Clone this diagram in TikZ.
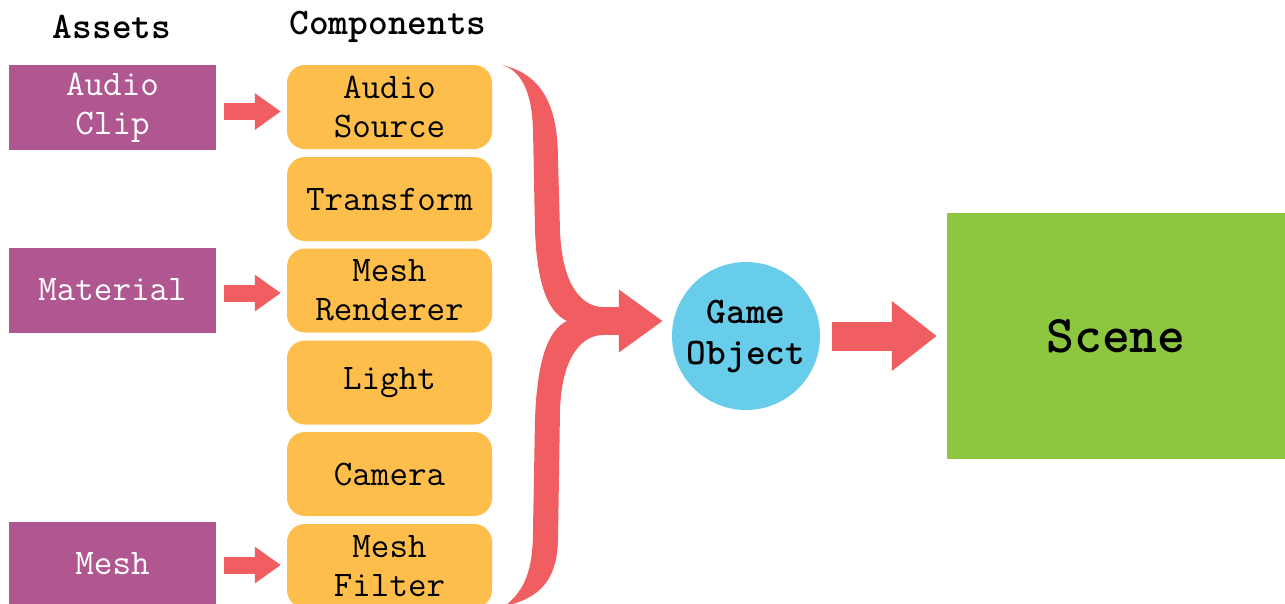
\documentclass[tikz,border=0pt]{standalone}
\usetikzlibrary{arrows.meta}
\definecolor{assetc}{RGB}{176,86,145}
\definecolor{compc}{RGB}{253,190,75}
\definecolor{arrc}{RGB}{240,94,98}
\definecolor{goc}{RGB}{104,205,235}
\definecolor{scenec}{RGB}{141,198,63}
\begin{document}
\begin{tikzpicture}[x=1pt,y=-1pt,
  txt/.style={font=\ttfamily\fontsize{36}{39}\selectfont},
  asset/.style={txt, fill=assetc, text=white, minimum width=207pt, minimum height=85pt, align=center, inner sep=0pt},
  comp/.style={txt, fill=compc, rounded corners=18pt, minimum width=205pt, minimum height=84pt, align=center, inner sep=0pt},
  hdr/.style={font=\ttfamily\bfseries\fontsize{37.5}{40}\selectfont},
  smallarrow/.style={draw=arrc, line width=17pt, -{Triangle[width=35pt,length=26pt]}, shorten <=8pt, shorten >=6pt},
  bigarrow/.style={draw=arrc, line width=29pt, -{Triangle[width=67pt,length=45pt]}}
]
\useasboundingbox (0,0) rectangle (1285,603);
\clip (0,0) rectangle (1285,603);

\node[hdr] (hassets) at (112,27) {Assets};
\node[hdr] (hcomps) at (388,27) {Components};

\node[asset] (ac) at (112.5,107.5) {Audio\\Clip};
\node[asset] (mat) at (112.5,290) {Material};
\node[asset, minimum height=84pt] (mesh) at (112.5,564) {Mesh};

\node[comp] (as) at (389.5,107) {Audio\\Source};
\node[comp] (tr) at (389.5,199) {Transform};
\node[comp] (mr) at (389.5,290.5) {Mesh\\Renderer};
\node[comp] (li) at (389.5,382.5) {Light};
\node[comp] (ca) at (389.5,474) {Camera};
\node[comp] (mf) at (389.5,566) {Mesh\\Filter};

\draw[smallarrow] ([yshift=-4pt]ac.east) -- ([yshift=-4pt]ac.east -| as.west);
\draw[smallarrow] ([yshift=-3pt]mat.east) -- ([yshift=-3pt]mat.east -| mr.west);
\draw[smallarrow] ([yshift=-1pt]mesh.east) -- ([yshift=-1pt]mesh.east -| mf.west);

\node[circle, fill=goc, minimum size=148pt, inner sep=0pt, align=center, font=\ttfamily\bfseries\fontsize{37.5}{41}\selectfont] (go) at (746,336) {Game\\Object};
\node[fill=scenec, minimum width=338pt, minimum height=246pt, inner sep=0pt, font=\ttfamily\bfseries\fontsize{53}{56}\selectfont] (scene) at (1116,336) {Scene};

% brace
\fill[arrc] (502,65) .. controls (545,75) and (558,110) .. (558,160)
  -- (560,230) .. controls (562,290) and (585,307) .. (603,307)
  -- (603,335) .. controls (585,335) and (562,352) .. (560,410)
  -- (558,540) .. controls (557,580) and (540,598) .. (505,606)
  .. controls (525,590) and (533,570) .. (533,530)
  -- (535,420) .. controls (537,360) and (548,330) .. (567,321)
  .. controls (548,312) and (537,285) .. (535,230)
  -- (533,130) .. controls (532,90) and (520,70) .. (502,65) -- cycle;
\coordinate (bracetip) at (600,321);
\draw[draw=arrc, line width=28pt, -{Triangle[width=60pt,length=44pt]}, shorten >=9pt] (bracetip) -- (bracetip -| go.west);

\draw[bigarrow, shorten <=12pt, shorten >=10pt] (go.east) -- (scene.west);
\end{tikzpicture}
\end{document}
